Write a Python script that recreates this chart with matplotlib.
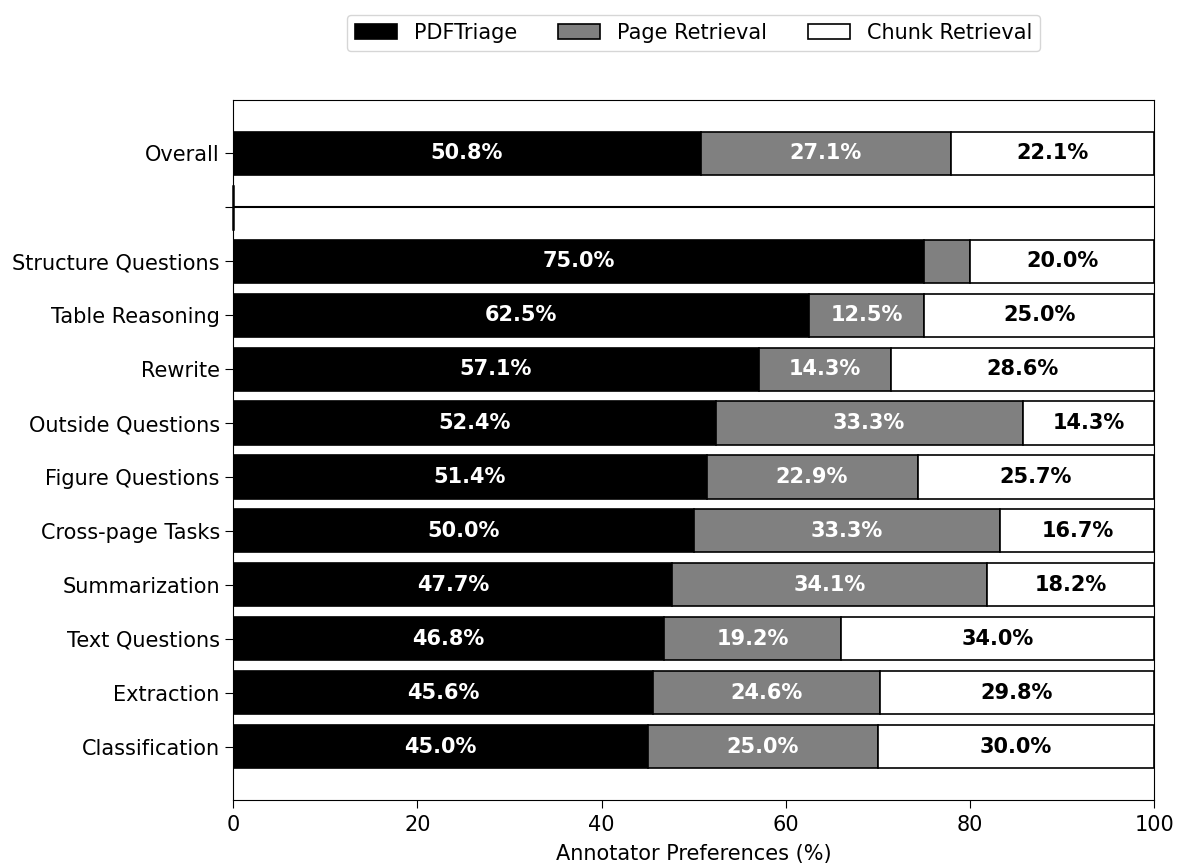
import matplotlib
matplotlib.use("Agg")
import matplotlib.pyplot as plt
import numpy as np

categories = ["Overall", "", "Structure Questions", "Table Reasoning", "Rewrite",
              "Outside Questions", "Figure Questions", "Cross-page Tasks",
              "Summarization", "Text Questions", "Extraction", "Classification"]
pdftriage = [50.8, 0, 75.0, 62.5, 57.1, 52.4, 51.4, 50.0, 47.7, 46.8, 45.6, 45.0]
page_ret = [27.1, 0, 5.0, 12.5, 14.3, 33.3, 22.9, 33.3, 34.1, 19.2, 24.6, 25.0]
chunk_ret = [22.1, 0, 20.0, 25.0, 28.6, 14.3, 25.7, 16.7, 18.2, 34.0, 29.8, 30.0]
series_names = ["PDFTriage", "Page Retrieval", "Chunk Retrieval"]

fs = 15
fig = plt.figure(figsize=(11.83, 8.68), dpi=100)
ax = fig.add_axes([0.197, 0.0783, 0.7787, 0.8065])

y = np.arange(len(categories))
a = np.array(pdftriage)
b = np.array(page_ret)
c = np.array(chunk_ret)
h = 0.8
lw = 1.2
b1 = ax.barh(y, a, height=h, color="black", edgecolor="black", linewidth=lw, label=series_names[0])
b2 = ax.barh(y, b, left=a, height=h, color="gray", edgecolor="black", linewidth=lw, label=series_names[1])
b3 = ax.barh(y, c, left=a + b, height=h, color="white", edgecolor="black", linewidth=lw, label=series_names[2])

# separator between overall and the rest
ax.axhline(1, color="black", linewidth=1.5)
ax.plot([0, 0], [1 - h / 2, 1 + h / 2], color="black", linewidth=1.8, clip_on=False)

for bars, vals, col in [(b1, a, "white"), (b2, b, "white"), (b3, c, "black")]:
    for rect, v in zip(bars, vals):
        if v < 10:
            continue
        ax.text(rect.get_x() + rect.get_width() / 2, rect.get_y() + rect.get_height() / 2,
                f"{v:.1f}%", ha="center", va="center", color=col,
                fontsize=fs, fontweight="bold")

ax.set_yticks(y)
ax.set_yticklabels(categories, fontsize=fs)
ax.invert_yaxis()
ax.set_xlim(0, 100)
ax.tick_params(axis="both", labelsize=fs, length=6)
ax.tick_params(axis="x", pad=5)
ax.set_xlabel("Annotator Preferences (%)", fontsize=fs, labelpad=6)

ax.legend(loc="upper center", bbox_to_anchor=(0.5, 1.137), ncol=3, fontsize=fs,
          handlelength=2.0, columnspacing=2.0)

fig.savefig("out.png", dpi=100)
